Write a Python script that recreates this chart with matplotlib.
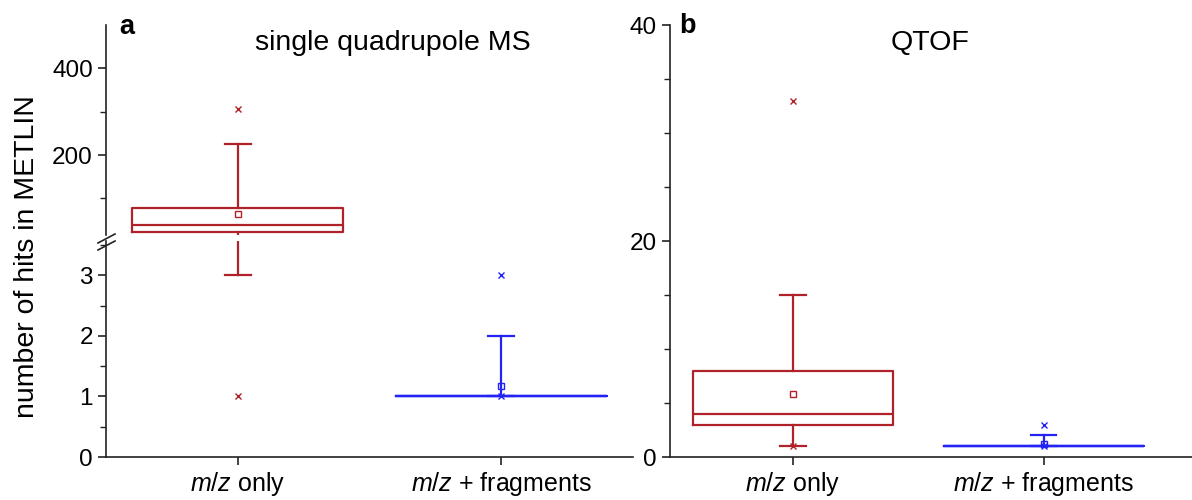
import numpy as np
import matplotlib
matplotlib.use("Agg")
import matplotlib.pyplot as plt
from matplotlib.ticker import MultipleLocator, FixedLocator

plt.rcParams['font.family'] = ['Liberation Sans', 'DejaVu Sans']
plt.rcParams['mathtext.fontset'] = 'custom'
plt.rcParams['mathtext.it'] = 'Liberation Sans:italic'
plt.rcParams['mathtext.rm'] = 'Liberation Sans'

# ── data ───────────────────────────────────────
categories = [r'$m/z$ only', r'$m/z$ + fragments']
box_colors = ['#B0222A', '#2323F5']

# single quadrupole MS
quad_q1 = [22, 1]
quad_med = [39, 1]
quad_q3 = [78, 1]
quad_lo = [3, 1]
quad_hi = [225, 2]
quad_mean = [64, 1.17]
quad_fliers = [[1, 306], [1, 3]]

# QTOF
qtof_q1 = [3, 1]
qtof_med = [4, 1]
qtof_q3 = [8, 1]
qtof_lo = [1, 1]
qtof_hi = [15, 2]
qtof_mean = [5.8, 1.2]
qtof_fliers = [[1, 33], [1, 3]]

W, H = 1192, 500
FS_TICK = 17.5
FS_XLAB = 18
FS_TITLE = 20.5


def px_axes(fig, left, top, right, bottom):
    return fig.add_axes([left / W, 1 - bottom / H, (right - left) / W, (bottom - top) / H])


def make_stats(q1, med, q3, lo, hi, mean, fliers):
    return [dict(q1=q1[i], med=med[i], q3=q3[i], whislo=lo[i], whishi=hi[i],
                 mean=mean[i], fliers=np.array(fliers[i])) for i in range(len(q1))]


def draw_boxes(ax, stats):
    art = ax.bxp(stats, positions=[1, 2], widths=0.8, showmeans=True,
                 capwidths=0.1, manage_ticks=False)
    for i, col in enumerate(box_colors):
        art['boxes'][i].set(color=col, linewidth=1.6)
        art['medians'][i].set(color=col, linewidth=1.6)
        for k in (2 * i, 2 * i + 1):
            art['whiskers'][k].set(color=col, linewidth=1.6)
            art['caps'][k].set(color=col, linewidth=1.6)
        art['means'][i].set(marker='s', markersize=4, markerfacecolor='none',
                            markeredgecolor=col, markeredgewidth=1.0)
        art['fliers'][i].set(marker='x', markersize=4, markeredgecolor=col,
                             markeredgewidth=1.0, linestyle='none')


def style_axis(ax, bottom=True):
    for s in ('top', 'right'):
        ax.spines[s].set_visible(False)
    ax.spines['bottom'].set_visible(bottom)
    for s in ('left', 'bottom'):
        ax.spines[s].set_linewidth(1.2)
        ax.spines[s].set_color('#222222')
    ax.tick_params(axis='both', which='major', direction='out', length=6, width=1.2,
                   labelsize=FS_TICK, colors='#222222', labelcolor='black')
    ax.tick_params(axis='x', which='major', labelsize=FS_XLAB)
    ax.tick_params(axis='y', which='minor', direction='out', length=4, width=1.0,
                   colors='#222222')
    ax.tick_params(axis='x', which='minor', length=0)


fig = plt.figure(figsize=(W / 100, H / 100), dpi=100)

quad = make_stats(quad_q1, quad_med, quad_q3, quad_lo, quad_hi, quad_mean, quad_fliers)
qtof = make_stats(qtof_q1, qtof_med, qtof_q3, qtof_lo, qtof_hi, qtof_mean, qtof_fliers)

# ── panel a: broken axis ───────────────────────
ax_up = px_axes(fig, 106, 25, 633, 235)
ax_lo = px_axes(fig, 106, 241, 633, 457)
for ax in (ax_up, ax_lo):
    draw_boxes(ax, quad)
    ax.set_xlim(0.5, 2.5)

ax_up.set_ylim(16, 499)
ax_up.yaxis.set_major_locator(FixedLocator([200, 400]))
ax_up.yaxis.set_minor_locator(FixedLocator([100, 300]))
style_axis(ax_up, bottom=False)
ax_up.set_xticks([])

ax_lo.set_ylim(0, 3.57)
ax_lo.yaxis.set_major_locator(MultipleLocator(1))
ax_lo.yaxis.set_minor_locator(MultipleLocator(0.5))
style_axis(ax_lo)
ax_lo.set_xticks([1, 2])
ax_lo.set_xticklabels(categories)

# break marks on the y axis
for dy in (0, 7):
    fig.add_artist(plt.Line2D([98 / W, 115 / W], [1 - (243 + dy) / H, 1 - (234 + dy) / H],
                              color='#222222', linewidth=1.2))

fig.text(119 / W, 1 - 27 / H, 'a', fontsize=FS_TITLE - 1, fontweight='bold', ha='left', va='center')
fig.text(393 / W, 1 - 43 / H, 'single quadrupole MS', fontsize=FS_TITLE, ha='center', va='center')

# ── panel b ────────────────────────────────────
ax_b = px_axes(fig, 670, 25, 1192, 457)
draw_boxes(ax_b, qtof)
ax_b.set_xlim(0.51, 2.59)
ax_b.set_ylim(0, 40)
ax_b.yaxis.set_major_locator(FixedLocator([0, 20, 40]))
ax_b.yaxis.set_minor_locator(MultipleLocator(5))
style_axis(ax_b)
ax_b.set_xticks([1, 2])
ax_b.set_xticklabels(categories)

fig.text(679 / W, 1 - 26 / H, 'b', fontsize=FS_TITLE - 1, fontweight='bold', ha='left', va='center')
fig.text(930 / W, 1 - 43 / H, 'QTOF', fontsize=FS_TITLE, ha='center', va='center')

fig.text(27 / W, 1 - 257 / H, 'number of hits in METLIN', fontsize=FS_TITLE, rotation=90,
         ha='center', va='center')

plt.savefig("out.png", dpi=100)
